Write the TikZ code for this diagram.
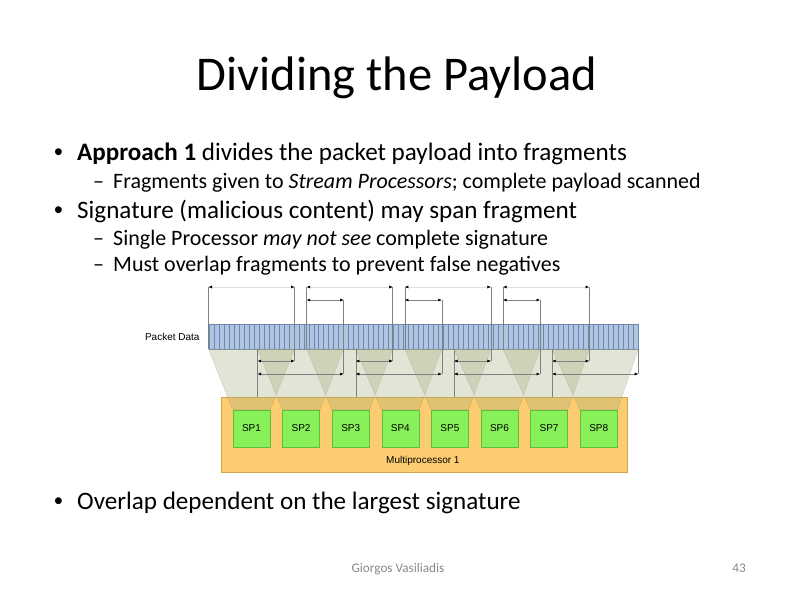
\documentclass[tikz,border=0pt]{standalone}
\usepackage{fontspec}
\setmainfont{Carlito}
\newfontfamily\arialfont{Liberation Sans}
\usetikzlibrary{arrows.meta, positioning, calc}
\definecolor{barblue}{RGB}{176, 196, 228}
\definecolor{cellline}{RGB}{112, 136, 168}
\definecolor{mporange}{RGB}{252, 204, 112}
\definecolor{mpedge}{RGB}{214, 164, 80}
\definecolor{spgreen}{RGB}{136, 240, 88}
\definecolor{spedge}{RGB}{96, 190, 60}
\definecolor{fragshade}{RGB}{164, 175, 126}
\definecolor{footgray}{RGB}{137, 137, 137}
\definecolor{dimgray}{RGB}{128, 128, 128}

\begin{document}
\begin{tikzpicture}[x=1pt, y=-1pt,
    titletext/.style={font=\fontsize{48.5}{58}\selectfont, anchor=base, inner sep=0pt},
    bullettext/.style={font=\fontsize{25.1}{30}\selectfont, anchor=base west, inner sep=0pt},
    bulletmark/.style={font=\arialfont\fontsize{25.1}{30}\selectfont, anchor=base west, inner sep=0pt},
    subtext/.style={font=\fontsize{22}{26}\selectfont, anchor=base west, inner sep=0pt},
    foottext/.style={font=\fontsize{13.2}{16}\selectfont, text=footgray, anchor=base, inner sep=0pt},
    diagtext/.style={font=\arialfont\fontsize{10}{12}\selectfont, inner sep=0pt},
    packetbar/.style={draw=cellline, fill=barblue, line width=0.5pt, minimum width=429pt, minimum height=25pt, inner sep=0pt},
    mpbox/.style={draw=mpedge, fill=mporange, line width=0.5pt, minimum width=406pt, minimum height=75pt, inner sep=0pt},
    spbox/.style={draw=spedge, fill=spgreen, line width=0.5pt, minimum width=37pt, minimum height=37pt, inner sep=0pt, font=\arialfont\fontsize{10}{12}\selectfont},
    fragment/.style={fill=fragshade, fill opacity=0.32, draw=fragshade!60!black, draw opacity=0.25, line width=0.4pt},
    dimarrow/.style={<->, >={Latex[length=3.5pt, width=3pt, color=black]}, draw=dimgray, line width=0.5pt},
    extline/.style={draw=dimgray, line width=0.5pt}
]
\useasboundingbox (0,0) rectangle (794,595);
\fill[white] (0,0) rectangle (794,595);

% Title and bullets
\node (title) [titletext] at (397,90) {Dividing the Payload};
\node (dot1) [bulletmark] at (54,160) {•};
\node (line1) [bullettext] at (77,160) {\textbf{Approach 1} divides the packet payload into fragments};
\node (dash1) [subtext] at (93,188) {–};
\node (line1a) [subtext] at (113,188) {Fragments given to \textit{Stream Processors}; complete payload scanned};
\node (dot2) [bulletmark] at (54,218) {•};
\node (line2) [bullettext] at (77,218) {Signature (malicious content) may span fragment};
\node (dash2) [subtext] at (93,245) {–};
\node (line2a) [subtext] at (113,245) {Single Processor \textit{may not see} complete signature};
\node (dash3) [subtext] at (93,271) {–};
\node (line2b) [subtext] at (113,271) {Must overlap fragments to prevent false negatives};
\node (dot3) [bulletmark] at (54,509) {•};
\node (line3) [bullettext] at (77,509) {Overlap dependent on the largest signature};

% Footer
\node (author) [foottext] at (398,572) {Giorgos Vasiliadis};
\node (pagenum) [foottext] at (739,572) {43};

% Multiprocessor
\node (mp) [mpbox] at (424,434.5) {};
\node (mplabel) [diagtext, anchor=west] at (386,461) {Multiprocessor 1};
\node (sp1) [spbox] at (251.5,428.5) {SP1};
\node (sp2) [spbox, right=12.1pt of sp1] {SP2};
\node (sp3) [spbox, right=12.1pt of sp2] {SP3};
\node (sp4) [spbox, right=12.1pt of sp3] {SP4};
\node (sp5) [spbox, right=12.1pt of sp4] {SP5};
\node (sp6) [spbox, right=12.1pt of sp5] {SP6};
\node (sp7) [spbox, right=12.1pt of sp6] {SP7};
\node (sp8) [spbox, right=12.1pt of sp7] {SP8};

% Packet data
\node (packet) [packetbar] at (423.5,336.5) {};
\foreach \k in {1,...,85}
    \draw[cellline, line width=0.5pt] ({209+\k*4.988},324) -- ++(0,25);
\node (pdlabel) [diagtext, left=9pt of packet] {Packet Data};

% Fragment ends and rows
\coordinate (rowa) at (0,287);
\coordinate (rowb) at (0,300);
\coordinate (rowc) at (0,361);
\coordinate (rowd) at (0,374);
\coordinate (mptop) at (0,397);
\foreach \i in {1,...,8} {
    \coordinate (fl\i) at ({208.5+49.1*(\i-1)},349);
    \coordinate (fr\i) at ({294.5+49.1*(\i-1)},349);
}

% Fragments
\foreach \i in {1,...,8}
    \draw[fragment] (fl\i) -- (fr\i) -- (sp\i.north east) -- (sp\i.north west) -- cycle;

% Extension lines
\foreach \i in {1,3,5,7} {
    \draw[extline] (fl\i |- rowa) -- (fl\i);
    \draw[extline] (fr\i |- rowa) -- (fr\i |- rowc);
}
\foreach \i in {2,4,6}
    \draw[extline] (fr\i |- rowb) -- (fr\i |- rowd);
\draw[extline] (fr8) -- (fr8 |- rowd);
\foreach \i in {2,4,6,8}
    \draw[extline] (fl\i) -- (fl\i |- mptop);

% Dimension arrows
\foreach \i in {1,3,5,7}
    \draw[dimarrow, draw=dimgray!25] (fl\i |- rowa) -- (fr\i |- rowa);
\foreach \i/\j in {2/3,4/5,6/7}
    \draw[dimarrow] (fl\j |- rowb) -- (fr\i |- rowb);
\foreach \i/\j in {1/2,3/4,5/6,7/8}
    \draw[dimarrow] (fl\j |- rowc) -- (fr\i |- rowc);
\foreach \i in {2,4,6,8}
    \draw[dimarrow] (fl\i |- rowd) -- (fr\i |- rowd);

\end{tikzpicture}
\end{document}
